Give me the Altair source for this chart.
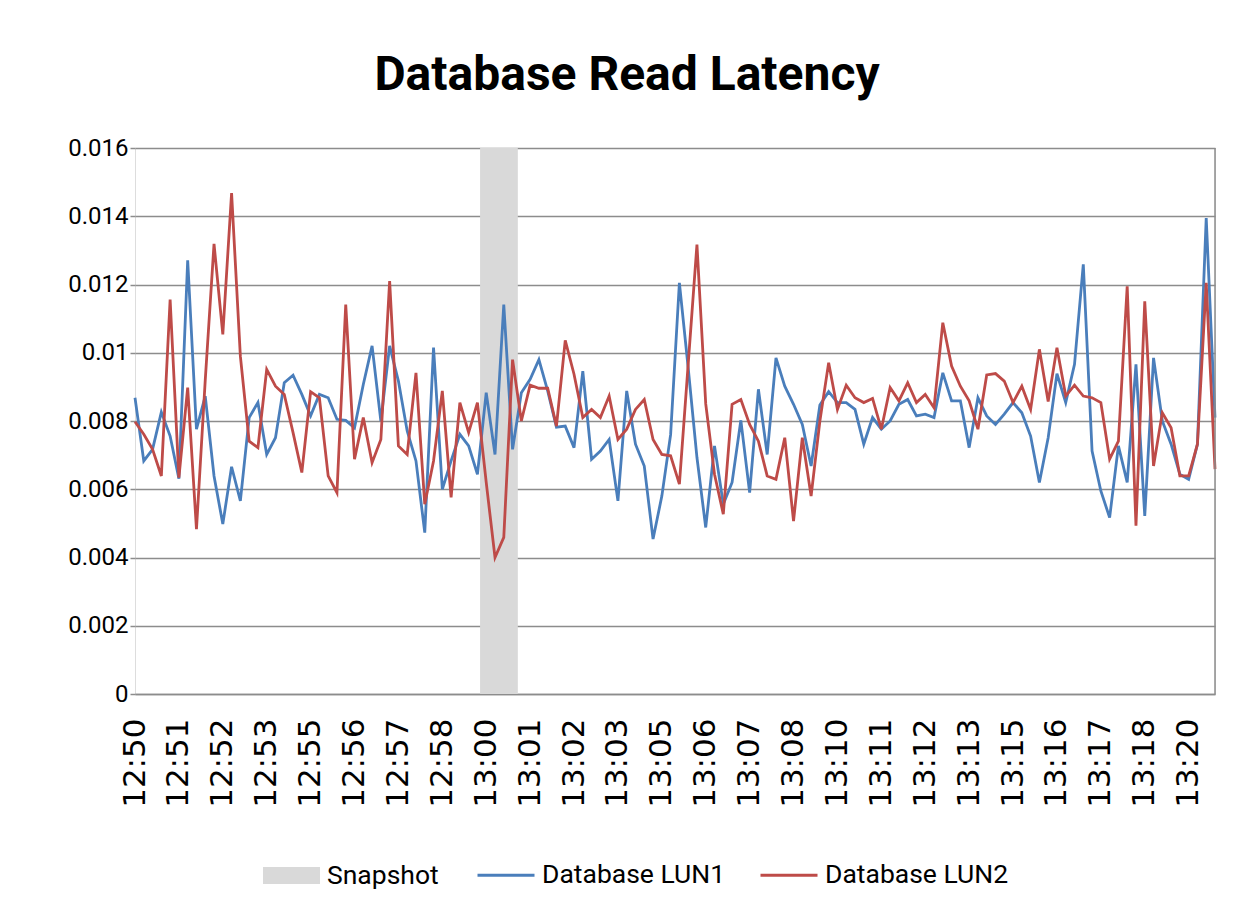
import json
import altair as alt
import pandas as pd

# ---- data (values in thousandths of a second) ----
time_labels = ["12:50", "12:51", "12:52", "12:53", "12:55", "12:56", "12:57", "12:58",
               "13:00", "13:01", "13:02", "13:03", "13:05", "13:06", "13:07", "13:08",
               "13:10", "13:11", "13:12", "13:13", "13:15", "13:16", "13:17", "13:18",
               "13:20"]

lun1 = [8.68, 6.83, 7.17, 8.26, 7.56, 6.31, 12.71, 7.76, 8.73, 6.39,
        4.98, 6.66, 5.66, 8.10, 8.54, 7.02, 7.51, 9.12, 9.34, 8.78,
        8.15, 8.78, 8.68, 8.05, 8.02, 7.80, 9.07, 10.20, 8.00, 10.20,
        9.17, 7.71, 6.83, 4.73, 10.15, 6.00, 6.83, 7.61, 7.27, 6.44,
        8.83, 7.02, 11.41, 7.17, 8.83, 9.22, 9.80, 8.88, 7.82, 7.85,
        7.22, 9.46, 6.88, 7.12, 7.46, 5.66, 8.88, 7.32, 6.68, 4.54,
        5.80, 7.60, 12.05, 9.56, 6.93, 4.88, 7.27, 5.56, 6.20, 8.02,
        5.90, 8.93, 7.02, 9.85, 9.02, 8.49, 7.90, 6.68, 8.47, 8.86,
        8.54, 8.54, 8.34, 7.32, 8.10, 7.76, 8.00, 8.49, 8.63, 8.15,
        8.20, 8.10, 9.41, 8.59, 8.59, 7.22, 8.68, 8.15, 7.90, 8.20,
        8.54, 8.24, 7.56, 6.20, 7.51, 9.39, 8.54, 9.66, 12.59, 7.12,
        5.95, 5.17, 7.27, 6.20, 9.66, 5.22, 9.85, 8.00, 7.32, 6.44,
        6.29, 7.32, 13.95, 8.10]

lun2 = [7.98, 7.61, 7.17, 6.39, 11.56, 6.34, 8.98, 4.83, 9.20, 13.19,
        10.54, 14.68, 9.90, 7.41, 7.22, 9.51, 9.02, 8.78, 7.66, 6.49,
        8.86, 8.68, 6.39, 5.90, 11.41, 6.88, 8.10, 6.78, 7.46, 12.10,
        7.27, 7.02, 9.41, 5.56, 6.83, 8.88, 5.76, 8.54, 7.66, 8.54,
        6.20, 4.00, 4.59, 9.80, 8.00, 9.05, 8.96, 8.96, 7.85, 10.36,
        9.37, 8.10, 8.34, 8.10, 8.73, 7.46, 7.76, 8.34, 8.63, 7.46,
        7.02, 6.98, 6.15, 9.66, 13.17, 8.50, 6.44, 5.27, 8.49, 8.63,
        7.90, 7.41, 6.39, 6.29, 7.51, 5.07, 7.51, 5.80, 8.00, 9.71,
        8.34, 9.05, 8.68, 8.54, 8.66, 7.76, 8.98, 8.59, 9.12, 8.54,
        8.78, 8.39, 10.88, 9.61, 9.02, 8.59, 7.76, 9.35, 9.39, 9.17,
        8.54, 9.02, 8.34, 10.10, 8.57, 10.15, 8.73, 9.05, 8.73, 8.68,
        8.54, 6.88, 7.41, 11.95, 4.93, 11.51, 6.68, 8.24, 7.80, 6.39,
        6.39, 7.32, 12.05, 6.59]

snapshot_span = [39.3, 43.6]   # sample index where the snapshot starts / ends

snap_name = "Snapshot"
line_names = ["Database LUN1", "Database LUN2"]
snap_color = "#D9D9D9"
line_colors = ["#4A7EBB", "#BE4B48"]

# ---- tables ----
rows = []
for i, v in enumerate(lun1):
    rows.append({"i": i, "series": line_names[0], "v": v / 1000})
for i, v in enumerate(lun2):
    rows.append({"i": i, "series": line_names[1], "v": v / 1000})
lines_df = pd.DataFrame(rows)
snap_df = pd.DataFrame([{"x0": snapshot_span[0], "x1": snapshot_span[1],
                         "y0": 0.0, "y1": 0.016, "series": snap_name}])
n_last = len(lun1) - 1

label_expr = json.dumps(time_labels) + "[round(datum.value / 5)]"

xscale = alt.Scale(domain=[0, n_last], nice=False, zero=False)
yscale = alt.Scale(domain=[0, 0.016], nice=False)

text_font = "Roboto"
legend_size = 26.5

band = alt.Chart(snap_df).mark_rect(opacity=1).encode(
    x=alt.X("x0:Q", scale=xscale,
            axis=alt.Axis(values=list(range(0, len(time_labels) * 5, 5)), labelExpr=label_expr,
                          title=None, grid=False, ticks=False, labelAngle=270,
                          labelFont="DejaVu Sans", labelFontSize=31, labelPadding=24,
                          labelColor="#000000", domainColor="#8C8C8C", domainWidth=1.5,
                          labelOverlap=False)),
    x2="x1:Q",
    y=alt.Y("y0:Q", scale=yscale,
            axis=alt.Axis(values=[0, 0.002, 0.004, 0.006, 0.008, 0.01, 0.012, 0.014, 0.016],
                          format=".3~f", title=None, domain=False, ticks=True, tickSize=5,
                          tickColor="#8C8C8C", tickWidth=1.5, gridColor="#8C8C8C",
                          gridWidth=1.5, labelPadding=2, labelFont=text_font,
                          labelFontSize=24, labelColor="#000000")),
    y2="y1:Q",
    fill=alt.Fill("series:N", scale=alt.Scale(domain=[snap_name], range=[snap_color]),
                  legend=alt.Legend(title=None, orient="none", legendX=128, legendY=699,
                                    symbolType="M-1,-0.3H1V0.3H-1Z", symbolSize=3249,
                                    symbolStrokeWidth=0, labelOffset=7,
                                    labelFont=text_font, labelFontSize=legend_size,
                                    labelColor="#000000", labelLimit=400)),
)

lines = alt.Chart(lines_df).mark_line(strokeWidth=2.8).encode(
    x=alt.X("i:Q", scale=xscale),
    y=alt.Y("v:Q", scale=yscale),
    stroke=alt.Stroke("series:N", scale=alt.Scale(domain=line_names, range=line_colors),
                      legend=alt.Legend(title=None, orient="none", legendX=341, legendY=697,
                                        direction="horizontal", columns=2, columnPadding=28,
                                        symbolType="stroke", symbolSize=3249,
                                        symbolStrokeWidth=3, labelOffset=6,
                                        labelFont=text_font, labelFontSize=legend_size,
                                        labelColor="#000000", labelLimit=400)),
)

border = alt.Chart(snap_df).mark_rule(color="#8C8C8C", strokeWidth=1.5).encode(
    x=alt.X(datum=n_last, scale=xscale),
    y=alt.Y(datum=0, scale=yscale),
    y2=alt.Y2(datum=0.016),
)

chart = alt.layer(band, lines, border).properties(
    width=1080, height=546,
    autosize=alt.AutoSizeParams(type="none"),
    padding={"left": 127, "top": 140, "right": 25, "bottom": 215},
    title=alt.TitleParams("Database Read Latency", font=text_font,
                          fontSize=48, fontWeight="bold", color="#000000",
                          anchor="middle", dx=-48, offset=36),
).configure_view(stroke=None).configure(background="#FFFFFF")

chart.save("out.html", embed_options={"renderer": "svg", "actions": False})
